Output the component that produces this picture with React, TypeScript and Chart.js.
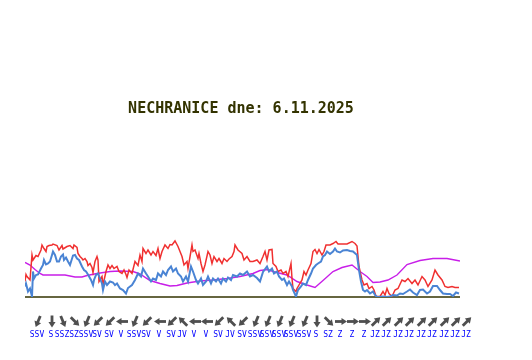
import { useEffect, useRef } from "react";
import { Chart, registerables } from "chart.js";

Chart.register(...registerables);

const TITLE = "NECHRANICE dne: 6.11.2025";

// [time index, m/s]
const gustData: [number, number][] = [
  [0, 3.1], [1, 4.5], [2, 4.1], [5, 3.4], [7, 8.4], [8, 7.4], [11, 8.3], [13, 8.1], [16, 9.4], [17, 10.4],
  [19, 9.7], [21, 9.1], [22, 10.1], [24, 10.3], [27, 10.4], [28, 10.6], [32, 10.3], [34, 9.4], [37, 10.3], [38, 9.6],
  [42, 10.1], [45, 10.3], [48, 9.7], [49, 10.4], [52, 9.9], [53, 8.7], [55, 8.1], [57, 7.7], [58, 7.4], [60, 7.7],
  [62, 7.1], [63, 6.3], [65, 6.7], [67, 5.9], [68, 4.9], [70, 7.1], [72, 8.1], [73, 7.4], [74, 3.1], [77, 4.1],
  [78, 2.4], [81, 5.1], [83, 6.4], [85, 5.7], [87, 6.3], [89, 5.7], [92, 6.1], [94, 5.1], [97, 4.7], [99, 5.4],
  [101, 4.5], [102, 3.9], [104, 5.4], [107, 4.7], [110, 7.1], [113, 6.3], [115, 8.4], [117, 7.1], [118, 9.7], [121, 8.7],
  [123, 9.4], [126, 8.4], [128, 9.1], [131, 8.3], [133, 9.7], [135, 7.7], [137, 9.1], [140, 10.4], [143, 9.7], [145, 10.5],
  [147, 10.4], [150, 11.2], [153, 10.1], [155, 9.1], [157, 8.1], [159, 6.4], [162, 7.1], [163, 5.7], [167, 10.4], [168, 9.1],
  [170, 9.4], [173, 7.7], [174, 8.7], [176, 6.7], [178, 5.1], [180, 6.4], [183, 9.1], [185, 8.4], [187, 6.7], [189, 8.1],
  [192, 7.1], [194, 7.7], [197, 6.7], [199, 7.7], [202, 7.1], [204, 7.6], [207, 8.1], [209, 9.1], [210, 10.4], [213, 9.4],
  [217, 8.7], [219, 7.4], [222, 8.1], [225, 7.1], [228, 7.1], [232, 7.4], [235, 6.7], [238, 8.1], [240, 9.1], [242, 7.4],
  [244, 9.4], [247, 9.5], [248, 6.7], [251, 6.1], [253, 5.1], [256, 5.4], [258, 4.7], [261, 5.1], [263, 4.1], [266, 6.7],
  [267, 3.7], [268, 1.7], [271, 1.1], [272, 1.7], [274, 2.4], [277, 3.4], [279, 5.1], [281, 4.4], [283, 5.4], [286, 6.7],
  [288, 9.1], [290, 9.5], [292, 8.7], [294, 9.5], [297, 8.4], [299, 9.1], [301, 10.4], [305, 10.4], [308, 10.7], [311, 11.1],
  [313, 10.6], [317, 10.6], [322, 10.6], [327, 11.1], [330, 10.7], [332, 10.2], [334, 6.1], [337, 3.4], [339, 2.4], [342, 2.7],
  [344, 1.7], [347, 2.1], [349, 1.4], [351, 0.1], [355, 0.1], [358, 1.1], [360, 0.4], [362, 1.7], [364, 0.7], [367, 0.1],
  [370, 1.4], [373, 1.7], [377, 3.4], [380, 3.1], [383, 3.7], [387, 2.7], [390, 3.4], [393, 2.4], [397, 4.1], [400, 3.4],
  [403, 2.1], [407, 3.4], [410, 5.4], [413, 4.4], [417, 3.4], [420, 2.1], [423, 1.9], [427, 2.1], [430, 1.9], [434, 1.9],
];

const speedData: [number, number][] = [
  [0, 2.1], [1, 2.7], [3, 1.1], [5, 1.7], [7, 0.1], [8, 5.1], [9, 3.7], [11, 4.4], [13, 4.5], [16, 5.7],
  [18, 6.4], [19, 7.4], [21, 6.5], [23, 6.7], [25, 7.1], [27, 8.4], [28, 9.1], [30, 8.4], [32, 7.1], [34, 7.1],
  [36, 8.1], [38, 8.5], [39, 7.4], [41, 7.9], [43, 7.1], [45, 6.4], [48, 8.3], [50, 8.4], [52, 7.7], [54, 7.4],
  [57, 6.1], [59, 5.4], [61, 5.1], [63, 4.5], [66, 3.4], [68, 2.4], [69, 3.4], [71, 4.4], [73, 4.7], [75, 3.7],
  [77, 2.7], [78, 1.4], [80, 3.1], [82, 2.4], [85, 3.1], [88, 2.9], [90, 2.4], [92, 2.7], [95, 1.7], [98, 1.4],
  [101, 0.7], [103, 1.8], [107, 2.4], [110, 3.4], [113, 4.7], [116, 4.1], [118, 5.7], [121, 4.7], [123, 4.1], [126, 3.1],
  [128, 3.7], [131, 3.4], [133, 4.7], [136, 4.1], [138, 5.1], [141, 4.4], [143, 5.4], [146, 6.1], [148, 5.1], [151, 5.7],
  [153, 4.7], [156, 4.1], [158, 3.1], [161, 4.1], [163, 3.1], [166, 6.1], [168, 5.1], [171, 3.4], [173, 2.7], [176, 3.7],
  [178, 2.4], [181, 3.1], [183, 4.1], [186, 2.7], [188, 3.7], [191, 3.1], [193, 3.7], [196, 2.7], [198, 3.7], [201, 3.1],
  [203, 3.9], [206, 3.4], [208, 4.4], [212, 4.1], [215, 4.7], [218, 4.4], [222, 5.1], [225, 4.1], [228, 4.4], [232, 3.8],
  [235, 3.1], [238, 5.0], [242, 6.1], [244, 5.1], [247, 5.7], [249, 4.7], [252, 5.1], [254, 4.1], [257, 3.4], [259, 3.7],
  [262, 2.4], [264, 3.1], [267, 2.1], [268, 1.4], [271, 0.1], [273, 1.4], [276, 2.1], [278, 2.7], [281, 2.4], [283, 3.4],
  [286, 4.7], [288, 5.7], [291, 6.4], [293, 6.7], [296, 7.1], [298, 8.1], [300, 8.4], [302, 9.1], [305, 8.6], [308, 9.1],
  [310, 9.7], [312, 9.1], [315, 8.9], [318, 9.3], [322, 9.4], [325, 9.2], [328, 9.1], [332, 8.4], [334, 5.4], [336, 3.1],
  [338, 1.4], [340, 1.1], [342, 1.4], [345, 0.7], [348, 1.1], [350, 0.4], [352, 0], [355, 0], [358, 0.1], [362, 0],
  [365, 0.1], [368, 0.4], [372, 0.3], [375, 0.7], [378, 0.6], [382, 1.1], [385, 1.5], [388, 0.9], [392, 0.4], [395, 1.4],
  [398, 1.5], [402, 0.7], [405, 1.1], [408, 2.2], [412, 2.2], [415, 1.4], [418, 0.7], [422, 0.6], [425, 0.6], [428, 0.2],
  [431, 0.9], [434, 0.7],
];

const thirdData: [number, number][] = [
  [0, 6.9], [5, 6.4], [10, 5.5], [15, 4.7], [18, 4.4], [40, 4.4], [50, 4.0], [57, 4.0], [62, 4.3], [72, 4.7],
  [85, 5.1], [95, 5.2], [108, 5.1], [115, 4.6], [125, 3.3], [135, 2.7], [145, 2.2], [152, 2.3], [162, 2.8], [175, 3.2],
  [188, 3.4], [202, 3.7], [215, 4.1], [228, 4.7], [235, 5.3], [243, 5.5], [248, 5.1], [262, 4.4], [272, 3.1], [282, 2.4],
  [290, 1.9], [298, 3.3], [308, 5.1], [317, 5.9], [327, 6.4], [335, 5.1], [342, 4.1], [348, 2.9], [355, 3.0], [363, 3.4],
  [372, 4.4], [382, 6.5], [395, 7.3], [408, 7.7], [422, 7.7], [435, 7.2],
];

const windTimes: number[] = [
  13, 27, 38, 50, 62, 73, 85, 97, 110, 122, 135, 147, 158, 170, 182, 194, 206, 218, 231, 243,
  255, 267, 280, 292, 304, 316, 328, 340, 351, 362, 374, 385, 397, 408, 420, 431, 442,
];

const windDirs: string[] = [
  "SSV", "S", "SSZ", "SZ", "SSV", "SV", "SV", "V", "SSV", "SV", "V", "SV", "JV", "V", "V", "SV", "JV", "SV", "SSV", "SSV",
  "SSV", "SSV", "SSV", "S", "SZ", "Z", "Z", "Z", "JZ", "JZ", "JZ", "JZ", "JZ", "JZ", "JZ", "JZ", "JZ",
];

const bearing: Record<string, number> = {
  S: 0, SSV: 22.5, SV: 45, VSV: 67.5, V: 90, VJV: 112.5, JV: 135, JJV: 157.5,
  J: 180, JJZ: 202.5, JZ: 225, ZJZ: 247.5, Z: 270, ZSZ: 292.5, SZ: 315, SSZ: 337.5,
};

function drawArrow(ctx: CanvasRenderingContext2D, cx: number, cy: number, deg: number) {
  const b = (deg * Math.PI) / 180;
  const ux = -Math.sin(b);
  const uy = Math.cos(b);
  const nx = -uy;
  const ny = ux;
  const L = 12;
  const h = 5.5;
  const tx = cx + (ux * L) / 2;
  const ty = cy + (uy * L) / 2;
  const sx = cx - (ux * L) / 2;
  const sy = cy - (uy * L) / 2;
  ctx.strokeStyle = "#4f4f4f";
  ctx.fillStyle = "#4f4f4f";
  ctx.lineWidth = 2.8;
  ctx.lineCap = "butt";
  ctx.beginPath();
  ctx.moveTo(sx, sy);
  ctx.lineTo(tx - ux * h * 0.7, ty - uy * h * 0.7);
  ctx.stroke();
  ctx.beginPath();
  ctx.moveTo(tx, ty);
  ctx.lineTo(tx - ux * h + nx * h * 0.65, ty - uy * h + ny * h * 0.65);
  ctx.lineTo(tx - ux * h - nx * h * 0.65, ty - uy * h - ny * h * 0.65);
  ctx.closePath();
  ctx.fill();
}

const overlay = {
  id: "overlay",
  beforeDatasetsDraw(chart: any) {
    const ctx = chart.ctx as CanvasRenderingContext2D;
    const xs = chart.scales.x;
    const ys = chart.scales.y;
    const y0 = ys.getPixelForValue(0);
    ctx.save();
    ctx.strokeStyle = "#333300";
    ctx.lineWidth = 1.5;
    ctx.beginPath();
    ctx.moveTo(xs.getPixelForValue(0), y0);
    ctx.lineTo(xs.getPixelForValue(435), y0);
    ctx.stroke();
    ctx.restore();
  },
  afterDraw(chart: any) {
    const ctx = chart.ctx as CanvasRenderingContext2D;
    const xs = chart.scales.x;
    ctx.save();
    ctx.fillStyle = "#333300";
    ctx.font = "bold 15px 'DejaVu Sans Mono'";
    ctx.textAlign = "center";
    ctx.textBaseline = "alphabetic";
    ctx.fillText(TITLE, 241, 113);
    windTimes.forEach((t, i) => {
      const px = xs.getPixelForValue(t);
      drawArrow(ctx, px, 321.5, bearing[windDirs[i]] ?? 0);
    });
    ctx.fillStyle = "#0000ff";
    ctx.font = "8px 'DejaVu Sans Mono'";
    ctx.textAlign = "center";
    windTimes.forEach((t, i) => {
      const px = xs.getPixelForValue(t);
      ctx.fillText(windDirs[i], px - 1, 337);
    });
    ctx.restore();
  },
};

const toPts = (arr: [number, number][]) => arr.map(([x, y]) => ({ x, y }));

export default function App() {
  const ref = useRef<HTMLCanvasElement>(null);
  useEffect(() => {
    const chart = new Chart(ref.current!, {
      type: "line",
      data: {
        datasets: [
          { label: "rychlost", data: toPts(speedData), borderColor: "#4a84d4", borderWidth: 2, order: 0 },
          { label: "nárazy", data: toPts(gustData), borderColor: "#f03030", borderWidth: 1.5, order: 1 },
          { label: "průměr", data: toPts(thirdData), borderColor: "#c81ee8", borderWidth: 1.4, order: 2 },
        ],
      },
      options: {
        animation: false,
        responsive: false,
        layout: { padding: { left: 25, right: 72, top: 227, bottom: 63 } },
        elements: { point: { radius: 0 }, line: { tension: 0 } },
        scales: {
          x: { type: "linear", min: 0, max: 435, display: false },
          y: { min: 0, max: 14, display: false },
        },
        plugins: { legend: { display: false }, tooltip: { enabled: false }, title: { display: false } },
      },
      plugins: [overlay],
    });
    return () => chart.destroy();
  }, []);
  return (
    <div style={{ position: "fixed", left: 0, top: 0, width: 532, height: 360, background: "#ffffff" }}>
      <canvas ref={ref} width={532} height={360} style={{ width: 532, height: 360 }} />
    </div>
  );
}
